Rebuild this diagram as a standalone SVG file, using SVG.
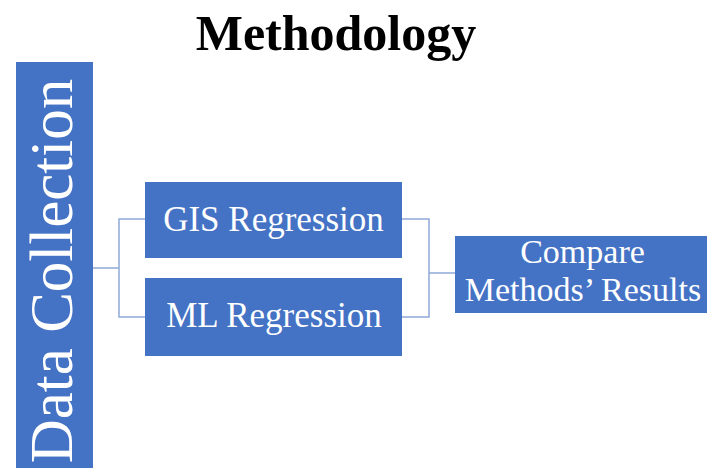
<svg xmlns="http://www.w3.org/2000/svg" width="708" height="468" viewBox="0 0 708 468">
<style>
.box{fill:#4472C4;}
.lbl{font-family:"Liberation Serif","Times New Roman",serif;fill:#ffffff;text-anchor:middle;}
.conn{fill:none;stroke:#8FA9D8;stroke-width:1.5;}
.title{font-family:"Liberation Serif","Times New Roman",serif;font-weight:bold;font-size:50px;fill:#000000;text-anchor:middle;}
</style>
<rect width="708" height="468" fill="#ffffff"/>
<text class="title" x="336" y="50">Methodology</text>
<g id="connectors">
<path class="conn" d="M93,268 H119 M146,219 H119 V317 H146"/>
<path class="conn" d="M402,219 H429 V317 H402 M429,273 H455"/>
</g>
<g id="data-collection">
<rect class="box" x="16" y="62" width="77" height="406"/>
<text class="lbl" font-size="61" transform="translate(72,271) rotate(-90)">Data Collection</text>
</g>
<g id="gis-regression">
<rect class="box" x="145" y="182" width="257" height="76"/>
<text class="lbl" font-size="35" x="273.5" y="231">GIS Regression</text>
</g>
<g id="ml-regression">
<rect class="box" x="145" y="278" width="257" height="78"/>
<text class="lbl" font-size="35" x="274" y="327">ML Regression</text>
</g>
<g id="compare">
<rect class="box" x="455" y="236" width="252" height="77"/>
<text class="lbl" font-size="34" x="582.5" y="263">Compare</text>
<text class="lbl" font-size="34" x="583" y="301">Methods’ Results</text>
</g>
</svg>
